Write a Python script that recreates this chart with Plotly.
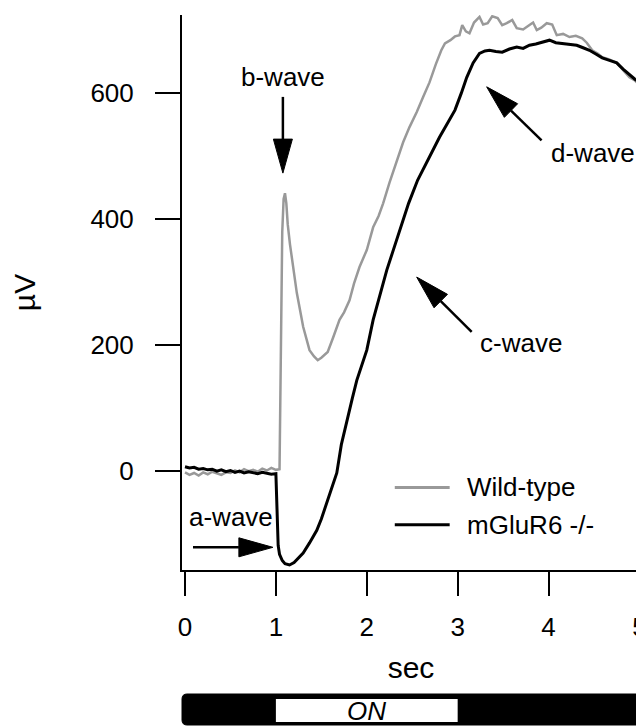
import plotly.graph_objects as go

# ---------------- data ----------------
wt_time = [0, 0.05, 0.1, 0.15, 0.2, 0.25, 0.3, 0.35, 0.4, 0.45, 0.5, 0.55, 0.6, 0.65, 0.7,
           0.75, 0.8, 0.85, 0.9, 0.95, 1.0, 1.04, 1.055, 1.07, 1.085, 1.10, 1.115, 1.13, 1.155,
           1.18, 1.23, 1.30, 1.37, 1.42, 1.46, 1.50, 1.57, 1.63, 1.70, 1.75, 1.81, 1.86, 1.92,
           2.0, 2.07, 2.13, 2.18, 2.25, 2.33, 2.40, 2.47, 2.55, 2.62, 2.69, 2.76, 2.82, 2.86,
           2.92, 2.97, 3.02, 3.05, 3.09, 3.13, 3.18, 3.24, 3.28, 3.33, 3.38, 3.44, 3.49, 3.54,
           3.60, 3.65, 3.72, 3.79, 3.83, 3.87, 3.92, 3.98, 4.04, 4.09, 4.16, 4.23, 4.30, 4.37,
           4.42, 4.48, 4.54, 4.59, 4.66, 4.75, 4.82, 4.89, 4.95, 5.0]
wt_uv = [-2, -6, -3, -7, -2, -5, -1, -4, -6, -2, -3, 1, -2, 3, 0,
         2, -1, 4, 1, 5, 2, 3, 200, 380, 432, 441, 425, 392, 360,
         335, 283, 229, 192, 182, 176, 180, 189, 212, 240, 252, 271, 298, 324,
         351, 387, 405, 425, 458, 494, 522, 546, 570, 594, 617, 646, 668, 679,
         684, 690, 692, 708, 698, 695, 712, 721, 709, 711, 722, 719, 708, 711,
         716, 703, 701, 708, 712, 700, 704, 711, 709, 692, 694, 689, 691, 687,
         680, 668, 663, 657, 654, 648, 636, 625, 620, 613]

ko_time = [0, 0.05, 0.1, 0.15, 0.2, 0.25, 0.3, 0.35, 0.4, 0.45, 0.5, 0.55, 0.6, 0.65, 0.7,
           0.75, 0.8, 0.85, 0.9, 0.95, 1.0, 1.015, 1.025, 1.04, 1.07, 1.10, 1.15, 1.20, 1.25,
           1.30, 1.37, 1.45, 1.50, 1.56, 1.62, 1.67, 1.72, 1.78, 1.84, 1.89, 1.95, 2.0, 2.07,
           2.15, 2.22, 2.29, 2.36, 2.46, 2.56, 2.65, 2.73, 2.80, 2.88, 2.97, 3.04, 3.10, 3.17,
           3.24, 3.30, 3.35, 3.42, 3.49, 3.57, 3.65, 3.72, 3.79, 3.86, 3.94, 4.01, 4.08, 4.15,
           4.23, 4.31, 4.38, 4.45, 4.52, 4.59, 4.67, 4.75, 4.82, 4.89, 4.95, 5.0]
ko_uv = [7, 5, 6, 3, 4, 2, 3, 0, 2, -1, 1, -2, 0, -3, -1,
         -2, -4, -2, -3, -5, -4, -60, -118, -132, -142, -147, -149, -145, -138,
         -130, -114, -94, -76, -51, -26, -3, 42, 81, 115, 144, 170, 192, 240,
         282, 319, 350, 380, 425, 462, 488, 510, 530, 550, 573, 600, 625, 648,
         663, 667, 668, 666, 665, 670, 673, 671, 676, 678, 681, 684, 680, 679,
         678, 676, 672, 668, 662, 656, 652, 648, 638, 629, 622, 617]

series_names = ["Wild-type", "mGluR6 -/-"]
series_colors = ["#999999", "#000000"]

x_ticks = [0, 1, 2, 3, 4, 5]
y_ticks = [0, 200, 400, 600]
stim_on = [1, 3]

# ---------------- layout geometry ----------------
OFF = 8                       # default page body margin
W, H = 644 - OFF, 726 - OFF   # figure size
# plot area in page pixels: x 182..640, y 15..570
PL, PR, PT, PB = 182, 640, 15, 570
ML, MT = PL - OFF, PT - OFF
MR, MB = W - (PR - OFF), H - (PB - OFF)
X_RANGE = [-0.033, 5.006]
Y_RANGE = [-157, 724]
PW, PH = PR - PL, PB - PT
SX = PW / (X_RANGE[1] - X_RANGE[0])      # px per sec
SY = PH / (Y_RANGE[1] - Y_RANGE[0])      # px per uV

FONT = "Liberation Sans, Arial, sans-serif"

fig = go.Figure()
fig.add_trace(go.Scatter(x=wt_time, y=wt_uv, mode="lines", name=series_names[0],
                         line=dict(color=series_colors[0], width=2.5), showlegend=False))
fig.add_trace(go.Scatter(x=ko_time, y=ko_uv, mode="lines", name=series_names[1],
                         line=dict(color=series_colors[1], width=3), showlegend=False))

shapes = []
annotations = []


def arrow(t0, v0, t1, v1, head_len=34, head_w=19):
    """Arrow from (t0,v0) to tip (t1,v1), head geometry in pixels converted to data units."""
    dx = (t1 - t0) * SX
    dy = (v1 - v0) * SY
    L = (dx * dx + dy * dy) ** 0.5
    ux, uy = dx / L, dy / L
    px, py = -uy, ux
    bx, by = -ux * head_len, -uy * head_len
    b_t = t1 + bx / SX
    b_v = v1 + by / SY
    shapes.append(dict(type="line", x0=t0, y0=v0, x1=b_t, y1=b_v, xref="x", yref="y",
                       line=dict(color="black", width=2.5)))
    c1 = (t1 + (bx + px * head_w / 2) / SX, v1 + (by + py * head_w / 2) / SY)
    c2 = (t1 + (bx - px * head_w / 2) / SX, v1 + (by - py * head_w / 2) / SY)
    path = f"M {t1},{v1} L {c1[0]},{c1[1]} L {c2[0]},{c2[1]} Z"
    shapes.append(dict(type="path", path=path, xref="x", yref="y",
                       fillcolor="black", line=dict(color="black", width=1)))


labels = [
    ("b-wave", 1.077, 625, 1.077, 594, 1.077, 473),
    ("d-wave", 4.49, 505, 3.923, 525, 3.319, 610),
    ("c-wave", 3.70, 203, 3.154, 221, 2.549, 308),
    ("a-wave", 0.505, -73, 0.088, -121, 0.967, -121),
]
for txt, tx, ty, a0, b0, a1, b1 in labels:
    annotations.append(dict(text=txt, x=tx, y=ty, xref="x", yref="y", showarrow=False,
                            xanchor="center", yanchor="middle",
                            font=dict(family=FONT, size=26, color="black")))
    arrow(a0, b0, a1, b1)

# legend (drawn manually)
leg_y = [-26, -85]
for name, col, ly in zip(series_names, series_colors, leg_y):
    shapes.append(dict(type="line", x0=2.308, x1=2.912, y0=ly, y1=ly, xref="x", yref="y",
                       line=dict(color=col, width=3)))
    annotations.append(dict(text=name, x=3.08, y=ly, xref="x", yref="y", xanchor="left",
                            yanchor="middle", showarrow=False,
                            font=dict(family=FONT, size=26, color="black")))


# stimulus bar below the axis (page pixel -> paper)
def py2paper(py):
    return (PB - py) / PH


def px2paper(px):
    return (px - PL) / PW


bx0, bx1 = px2paper(182), px2paper(642)
by0, by1 = py2paper(725), py2paper(694)
rx, ry = 5 / PW, 5 / PH
rr = (f"M {bx0 + rx},{by0} L {bx1 - rx},{by0} Q {bx1},{by0} {bx1},{by0 + ry} "
      f"L {bx1},{by1 - ry} Q {bx1},{by1} {bx1 - rx},{by1} L {bx0 + rx},{by1} "
      f"Q {bx0},{by1} {bx0},{by1 - ry} L {bx0},{by0 + ry} Q {bx0},{by0} {bx0 + rx},{by0} Z")
shapes.append(dict(type="path", path=rr, xref="paper", yref="paper",
                   fillcolor="black", line=dict(color="black", width=1)))
shapes.append(dict(type="rect", x0=stim_on[0], x1=stim_on[1], y0=py2paper(722), y1=py2paper(699),
                   xref="x", yref="paper", fillcolor="white", line=dict(width=0)))
annotations.append(dict(text="<i>ON</i>", x=(stim_on[0] + stim_on[1]) / 2, y=py2paper(710.5),
                        xref="x", yref="paper", showarrow=False,
                        xanchor="center", yanchor="middle",
                        font=dict(family=FONT, size=26, color="black")))

fig.update_layout(
    width=W, height=H,
    margin=dict(l=ML, r=MR, t=MT, b=MB, pad=0, autoexpand=False),
    paper_bgcolor="white", plot_bgcolor="white",
    font=dict(family=FONT, size=26, color="black"),
    shapes=shapes, annotations=annotations,
    showlegend=False,
)
fig.update_xaxes(range=X_RANGE, tickvals=x_ticks, ticktext=[str(v) for v in x_ticks],
                 showline=True, linecolor="black", linewidth=2, ticks="outside", ticklen=24,
                 tickwidth=2, tickcolor="black", showgrid=False, zeroline=False,
                 tickfont=dict(family=FONT, size=26), ticklabelstandoff=9,
                 ticklabeloverflow="allow", automargin=False,
                 title=dict(text="sec", font=dict(family=FONT, size=30), standoff=16))
fig.update_yaxes(range=Y_RANGE, tickvals=y_ticks, ticktext=[str(v) for v in y_ticks],
                 showline=True, linecolor="black", linewidth=2, ticks="outside", ticklen=25,
                 tickwidth=2, tickcolor="black", showgrid=False, zeroline=False,
                 tickfont=dict(family=FONT, size=26), ticklabelstandoff=16, automargin=False,
                 title=dict(text="µV", font=dict(family=FONT, size=30), standoff=49))

fig.write_html("out.html")
